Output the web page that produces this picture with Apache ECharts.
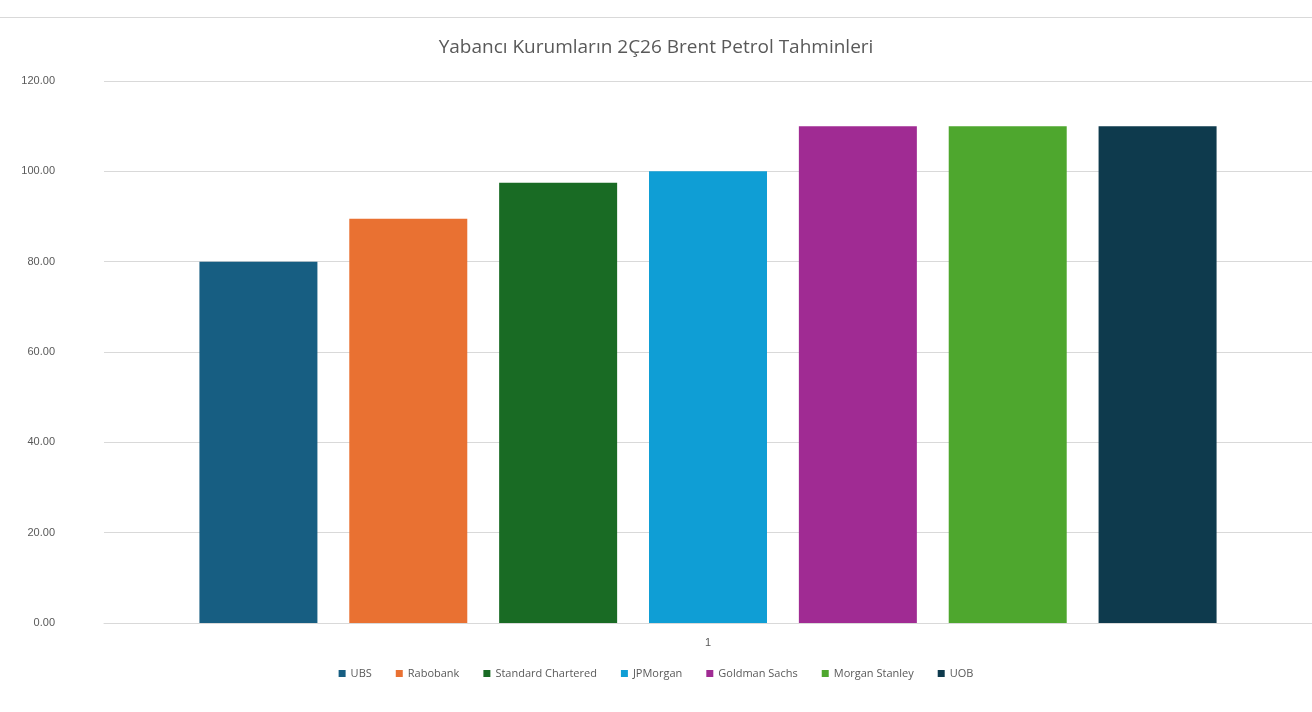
<!DOCTYPE html>
<html><head><meta charset="utf-8">
<script src="https://cdn.jsdelivr.net/npm/echarts@6/dist/echarts.min.js"></script>
<style>html,body{margin:0;background:#fff}#c{width:1312px;height:712px;position:relative}#c:before{content:'';position:absolute;left:0;right:0;top:17px;border-top:1px solid #d9d9d9;z-index:5}</style>
</head><body><div id="c"></div>
<script>
const categories = ['1'];
const names = ['UBS', 'Rabobank', 'Standard Chartered', 'JPMorgan', 'Goldman Sachs', 'Morgan Stanley', 'UOB'];
const values = [80, 89.5, 97.5, 100, 110, 110, 110];
const colors = ['#175e82', '#e97132', '#196b24', '#0f9ed5', '#a02b93', '#4ea72e', '#0e3a4d'];

const chart = echarts.init(document.getElementById('c'));
chart.setOption({
    title: {
        text: 'Yabancı Kurumların 2Ç26 Brent Petrol Tahminleri',
        left: 'center', top: 33,
        textStyle: { color: '#595959', fontSize: 19, fontWeight: 'normal', fontFamily: 'Open Sans' }
    },
    legend: {
        bottom: 28, itemWidth: 7, itemHeight: 7, itemGap: 24, icon: 'rect',
        textStyle: { color: '#595959', fontSize: 11, fontFamily: 'Open Sans' }
    },
    grid: { left: 104, right: 0, top: 81, bottom: 89 },
    xAxis: {
        type: 'category', data: categories,
        axisLine: { lineStyle: { color: '#d9d9d9' } },
        axisTick: { show: false },
        axisLabel: { color: '#595959', fontSize: 11, margin: 14 }
    },
    yAxis: {
        type: 'value', min: 0, max: 120, interval: 20,
        axisLabel: { formatter: v => v.toFixed(2), color: '#595959', fontSize: 11, margin: 49 },
        splitLine: { lineStyle: { color: '#d9d9d9' } }
    },
    series: names.map((n, i) => ({
        name: n, type: 'bar', data: [values[i]], barWidth: 118, barGap: '27%',
        itemStyle: { color: colors[i] }
    }))
});
</script></body></html>
